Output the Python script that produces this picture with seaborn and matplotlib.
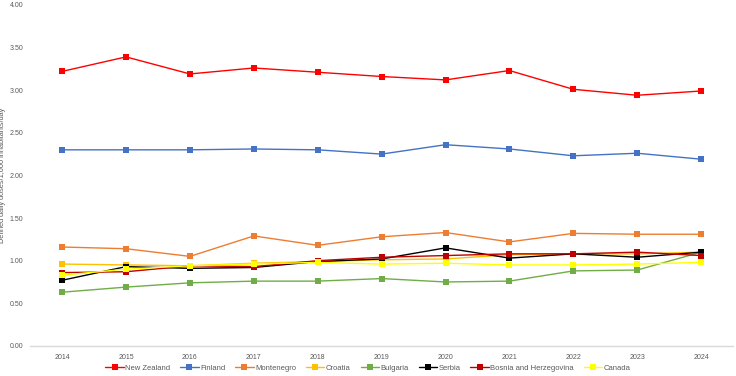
import pandas as pd
import matplotlib
matplotlib.use("Agg")
import matplotlib.pyplot as plt
import seaborn as sns

# --- data ---
years = [2014, 2015, 2016, 2017, 2018, 2019, 2020, 2021, 2022, 2023, 2024]
countries = ["New Zealand", "Finland", "Montenegro", "Croatia", "Bulgaria",
             "Serbia", "Bosnia and Herzegovina", "Canada"]
new_zealand = [3.22, 3.39, 3.19, 3.26, 3.21, 3.16, 3.12, 3.23, 3.01, 2.94, 2.99]
finland = [2.30, 2.30, 2.30, 2.31, 2.30, 2.25, 2.36, 2.31, 2.23, 2.26, 2.19]
montenegro = [1.16, 1.14, 1.05, 1.29, 1.18, 1.28, 1.33, 1.22, 1.32, 1.31, 1.31]
croatia = [0.96, 0.95, 0.94, 0.97, 0.99, 1.01, 1.02, 1.07, 1.08, 1.08, 1.10]
bulgaria = [0.63, 0.69, 0.74, 0.76, 0.76, 0.79, 0.75, 0.76, 0.88, 0.89, 1.10]
serbia = [0.77, 0.93, 0.91, 0.92, 0.99, 1.02, 1.15, 1.03, 1.08, 1.04, 1.10]
bosnia = [0.86, 0.87, 0.94, 0.93, 1.00, 1.04, 1.06, 1.08, 1.08, 1.10, 1.06]
canada = [0.83, 0.90, 0.94, 0.96, 0.98, 0.96, 0.97, 0.95, 0.95, 0.96, 0.98]
colors = ["#FF0000", "#4472C4", "#ED7D31", "#FFC000", "#70AD47",
          "#000000", "#C00000", "#FFFF00"]

series = [new_zealand, finland, montenegro, croatia, bulgaria, serbia, bosnia, canada]
df = pd.DataFrame({
    "Year": years * len(countries),
    "Country": [c for c in countries for _ in years],
    "DDD": [v for s in series for v in s],
})

sns.set_style("white")
plt.rcParams['font.family'] = ['Liberation Sans', 'DejaVu Sans']

fig, ax = plt.subplots(figsize=(7.36, 3.76), dpi=100)
fig.subplots_adjust(left=0.041, right=0.996, top=0.987, bottom=0.08)

sns.lineplot(data=df, x="Year", y="DDD", hue="Country", hue_order=countries,
             palette=colors, marker="s", markersize=4, markeredgewidth=0,
             linewidth=1.0, ax=ax)

ax.set_xlim(2013.5, 2024.5)
ax.set_ylim(0, 4)
ax.set_xticks(years)
ax.set_yticks([0, 0.5, 1, 1.5, 2, 2.5, 3, 3.5, 4])
ax.set_yticklabels([f"{v:.2f}" for v in ax.get_yticks()])
ax.tick_params(axis="both", labelsize=5, colors="#595959", length=0)
ax.tick_params(axis="y", pad=5)
ax.tick_params(axis="x", pad=6)
ax.set_xlabel("")
ax.set_ylabel("Defined daily doses/1,000 inhabitants/day", fontsize=5.3, color="#595959")
ax.yaxis.set_label_coords(-0.034, 0.5)

for side in ["top", "right", "left"]:
    ax.spines[side].set_visible(False)
ax.spines["bottom"].set_color("#D9D9D9")
ax.spines["bottom"].set_linewidth(1.0)

handles, labels = ax.get_legend_handles_labels()
ax.get_legend().remove()
fig.legend(handles, labels, loc="center", bbox_to_anchor=(0.5, 0.02), ncol=8,
           frameon=False, fontsize=5.5, handlelength=2.4, columnspacing=1.3,
           handletextpad=0.2, labelcolor="#595959", borderpad=0)

fig.savefig("out.png", dpi=100)
